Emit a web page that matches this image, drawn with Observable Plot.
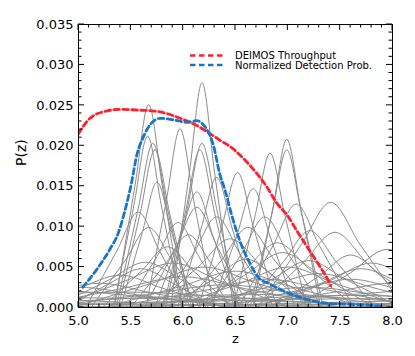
<!DOCTYPE html>
<html><head><meta charset="utf-8">
<script src="https://cdn.jsdelivr.net/npm/d3@7"></script>
<script src="https://cdn.jsdelivr.net/npm/@observablehq/plot@0.6"></script>
<style>html,body{margin:0;padding:0;background:#fff;} #chart{width:415px;height:356px;}</style>
</head><body><div id="chart"></div>
<script>
const xTicks = [5.0, 5.5, 6.0, 6.5, 7.0, 7.5, 8.0];
const yTicks = [0.000, 0.005, 0.010, 0.015, 0.020, 0.025, 0.030, 0.035];
const xMinor = d3.range(50, 81).map(v => v / 10);
const yMinor = d3.range(0, 36).map(v => v / 1000);

const legendLabels = ["DEIMOS Throughput", "Normalized Detection Prob."];

const deimosZ = [5.00, 5.11, 5.27, 5.40, 5.59, 5.72, 5.84, 5.97, 6.13, 6.22, 6.35, 6.48, 6.57, 6.67, 6.80, 6.89, 7.00, 7.095, 7.19, 7.29, 7.38, 7.41];
const deimosP = [0.0215, 0.0234, 0.0243, 0.0245, 0.0244, 0.0243, 0.0240, 0.0234, 0.0225, 0.0218, 0.0207, 0.0196, 0.0185, 0.0171, 0.0149, 0.0130, 0.0113, 0.0093, 0.0074, 0.0054, 0.0035, 0.0027];

const detZ = [5.04, 5.18, 5.30, 5.38, 5.44, 5.50, 5.56, 5.62, 5.69, 5.78, 5.91, 6.04, 6.13, 6.20, 6.29, 6.35, 6.40, 6.46, 6.54, 6.64, 6.72, 6.83, 7.02, 7.21, 7.40, 7.59, 7.88];
const detP = [0.0025, 0.0048, 0.0072, 0.0092, 0.0118, 0.0150, 0.0190, 0.0211, 0.0227, 0.0234, 0.0232, 0.0229, 0.0231, 0.0225, 0.0200, 0.0165, 0.0145, 0.0116, 0.0083, 0.0054, 0.0037, 0.0029, 0.0017, 0.0009, 0.0005, 0.0004, 0.0002];

// individual P(z) curves: [z, P] points
const grayCurves = [
  [[5.345,0],[5.54,0.0151],[5.67,0.0251],[5.80,0.0151],[5.995,0]],
  [[5.335,0],[5.53,0.0127],[5.66,0.0212],[5.79,0.0127],[5.985,0]],
  [[5.36,0],[5.57,0.0122],[5.71,0.0203],[5.85,0.0122],[6.06,0]],
  [[5.38,0],[5.59,0.0117],[5.73,0.0195],[5.87,0.0117],[6.08,0]],
  [[5.40,0],[5.61,0.0093],[5.75,0.0155],[5.89,0.0093],[6.10,0]],
  [[5.88,0],[6.06,0.0167],[6.18,0.0278],[6.30,0.0167],[6.48,0]],
  [[5.645,0],[5.84,0.0133],[5.97,0.0221],[6.10,0.0133],[6.295,0]],
  [[5.83,0],[6.04,0.0122],[6.18,0.0203],[6.32,0.0122],[6.53,0]],
  [[5.81,0],[6.02,0.0117],[6.16,0.0195],[6.30,0.0117],[6.51,0]],
  [[5.73,0],[5.97,0.0086],[6.13,0.0143],[6.29,0.0086],[6.53,0]],
  [[6.48,0],[6.69,0.0115],[6.83,0.0191],[6.97,0.0115],[7.18,0]],
  [[6.665,0],[6.86,0.0125],[6.99,0.0208],[7.12,0.0125],[7.315,0]],
  [[6.64,0],[6.85,0.0117],[6.99,0.0195],[7.13,0.0117],[7.34,0]],
  [[6.145,0],[6.37,0.0100],[6.52,0.0167],[6.67,0.0100],[6.895,0]],
  [[5.945,0],[6.17,0.0097],[6.32,0.0161],[6.47,0.0097],[6.695,0]],
  [[6.27,0],[6.51,0.0088],[6.67,0.0147],[6.83,0.0088],[7.07,0]],
  [[6.71,0],[7.13,0.0078],[7.41,0.0130],[7.69,0.0078],[8.11,0]],
  [[6.53,0],[6.86,0.0077],[7.08,0.0128],[7.30,0.0077],[7.63,0]],
  [[6.585,0],[6.96,0.0057],[7.21,0.0095],[7.46,0.0057],[7.835,0]],
  [[6.70,0],[7.15,0.0056],[7.45,0.0093],[7.75,0.0056],[8.20,0]],
  [[5.07,0],[5.37,0.0071],[5.57,0.0118],[5.77,0.0071],[6.07,0]],
  [[5.12,0],[5.45,0.0059],[5.67,0.0099],[5.89,0.0059],[6.22,0]],
  [[5.63,0],[5.93,0.0074],[6.13,0.0124],[6.33,0.0074],[6.63,0]],
  [[5.77,0],[6.10,0.0067],[6.32,0.0112],[6.54,0.0067],[6.87,0]],
  [[6.23,0],[6.56,0.0067],[6.78,0.0112],[7.00,0.0067],[7.33,0]],
  [[5.995,0],[6.37,0.0059],[6.62,0.0099],[6.87,0.0059],[7.245,0]],
  [[5.45,0],[5.75,0.0063],[5.95,0.0105],[6.15,0.0063],[6.45,0]],
  [[5.70,0],[6.15,0.0051],[6.45,0.0085],[6.75,0.0051],[7.20,0]],
  [[6.15,0],[6.60,0.0048],[6.90,0.0080],[7.20,0.0048],[7.65,0]],
  [[7.075,0],[7.60,0.0043],[7.95,0.0072],[8.30,0.0043],[8.825,0]],
  [[6.80,0],[7.40,0.0033],[7.80,0.0055],[8.20,0.0033],[8.80,0]],
  [[4.765,0],[5.29,0.0034],[5.64,0.0056],[5.99,0.0034],[6.515,0]],
  [[4.775,0],[5.45,0.0033],[5.90,0.0055],[6.35,0.0033],[7.025,0]],
  [[4.95,0],[5.70,0.0030],[6.20,0.0050],[6.70,0.0030],[7.45,0]],
  [[5.25,0],[6.00,0.0027],[6.50,0.0045],[7.00,0.0027],[7.75,0]],
  [[5.875,0],[6.55,0.0030],[7.00,0.0050],[7.45,0.0030],[8.125,0]],
  [[6.05,0],[6.80,0.0025],[7.30,0.0042],[7.80,0.0025],[8.55,0]],
  [[4.40,0],[5.00,0.0024],[5.40,0.0040],[5.80,0.0024],[6.40,0]],
  [[4.50,0],[5.40,0.0023],[6.00,0.0038],[6.60,0.0023],[7.50,0]],
  [[5.30,0],[6.20,0.0021],[6.80,0.0035],[7.40,0.0021],[8.30,0]],
  [[6.35,0],[7.10,0.0021],[7.60,0.0035],[8.10,0.0021],[8.85,0]],
  [[3.95,0],[4.70,0.0018],[5.20,0.0030],[5.70,0.0018],[6.45,0]],
  [[3.50,0],[4.40,0.0015],[5.00,0.0025],[5.60,0.0015],[6.50,0]],
  [[4.65,0],[5.70,0.0017],[6.40,0.0028],[7.10,0.0017],[8.15,0]],
  [[5.45,0],[6.50,0.0015],[7.20,0.0025],[7.90,0.0015],[8.95,0]],
  [[6.50,0],[7.40,0.0018],[8.00,0.0030],[8.60,0.0018],[9.50,0]],
  [[6.85,0],[7.30,0.0039],[7.60,0.0065],[7.90,0.0039],[8.35,0]],
  [[6.075,0],[6.60,0.0041],[6.95,0.0068],[7.30,0.0041],[7.825,0]],
  [[4.90,0],[5.30,0.0030],[5.60,0.0048],[5.90,0.0030],[6.30,0]],
  [[5.85,0],[6.30,0.0036],[6.60,0.0060],[6.90,0.0036],[7.35,0]],
  [[6.325,0],[6.85,0.0035],[7.20,0.0058],[7.55,0.0035],[8.075,0]],
  [[5.225,0],[5.60,0.0045],[5.85,0.0075],[6.10,0.0045],[6.475,0]],
  [[5.50,0],[5.83,0.0054],[6.05,0.0090],[6.27,0.0054],[6.60,0]],
  [[6.70,0],[7.30,0.0029],[7.70,0.0048],[8.10,0.0029],[8.70,0]],
  [[5.0,0.0018],[5.5,0.0019],[6.2,0.0015],[7.0,0.0008],[8.0,0.0002]],
  [[5.0,0.0008],[6.0,0.0014],[6.8,0.0016],[7.5,0.0012],[8.0,0.0008]],
  [[5.0,0.0003],[6.0,0.0008],[7.0,0.0013],[7.6,0.0015],[8.0,0.0014]],
  [[5.0,0.0012],[5.8,0.0011],[6.5,0.0009],[7.3,0.0006],[8.0,0.0004]],
  [[5.0,0.0005],[6.0,0.0007],[7.0,0.0010],[8.0,0.0011]],
  [[5.0,0.0020],[5.4,0.0016],[6.0,0.0008],[6.8,0.0003],[8.0,0.0001]],
  [[5.0,0.0001],[6.2,0.0004],[7.2,0.0012],[8.0,0.0020]],
  [[5.0,0.0004],[6.5,0.0003],[8.0,0.0005]],
  [[5.0,0.0009],[5.7,0.0005],[6.5,0.0002],[8.0,0.0001]],
  [[5.0,0.0],[6.0,0.0002],[7.0,0.0005],[8.0,0.0008]]
];

const grayRows = grayCurves.flatMap((c, i) => c.map(([z, p]) => ({id: i, z, p})));
const deimos = deimosZ.map((z, i) => ({z, p: deimosP[i]}));
const det = detZ.map((z, i) => ({z, p: detP[i]}));

const RED = "#ff1f2f", BLUE = "#1a74c6", GRAY = "#8c8c8c";
const FONT = "DejaVu Sans";

const chart = Plot.plot({
  width: 415, height: 356,
  marginLeft: 78, marginRight: 23, marginTop: 24, marginBottom: 49,
  style: {fontFamily: FONT, fontSize: "13px", background: "white", color: "black"},
  x: {domain: [5, 8]},
  y: {domain: [0, 0.035]},
  marks: [
    Plot.line(grayRows, {x: "z", y: "p", z: "id", curve: "monotone-x", stroke: GRAY, strokeWidth: 1, clip: true}),
    Plot.line(deimos, {x: "z", y: "p", curve: "monotone-x", stroke: RED, strokeWidth: 2.8, strokeDasharray: "5.5,3.5", clip: true}),
    Plot.line(det, {x: "z", y: "p", curve: "monotone-x", stroke: BLUE, strokeWidth: 2.8, strokeDasharray: "5.5,3.5", clip: true}),
    Plot.axisX({ticks: xTicks, tickSize: 0, tickPadding: 8, tickFormat: d3.format(".1f"), label: null, fontSize: 13}),
    Plot.axisY({ticks: yTicks, tickSize: 0, tickPadding: 5, tickFormat: d3.format(".3f"), label: null, fontSize: 13}),
    Plot.frame({stroke: "black", strokeWidth: 1}),
    Plot.text(["z"], {frameAnchor: "bottom", dy: 35, fontSize: 13}),
    Plot.text(["P(z)"], {frameAnchor: "left", dx: -57, rotate: -90, fontSize: 14})
  ]
});

// inward tick marks on all four sides, placed with the plot's own scales
const sx = chart.scale("x"), sy = chart.scale("y");
const svg = d3.select(chart);
const g = svg.append("g").attr("stroke", "black").attr("stroke-width", 1);
const x0 = sx.apply(5), x1 = sx.apply(8), y0 = sy.apply(0), y1 = sy.apply(0.035);
xMinor.forEach(v => {
  const major = xTicks.some(t => Math.abs(t - v) < 1e-9);
  const L = major ? 6 : 3.5, X = sx.apply(v);
  g.append("line").attr("x1", X).attr("x2", X).attr("y1", y0).attr("y2", y0 - L);
  g.append("line").attr("x1", X).attr("x2", X).attr("y1", y1).attr("y2", y1 + L);
});
yMinor.forEach(v => {
  const major = yTicks.some(t => Math.abs(t - v) < 1e-9);
  const L = major ? 6 : 3.5, Y = sy.apply(v);
  g.append("line").attr("y1", Y).attr("y2", Y).attr("x1", x0).attr("x2", x0 + L);
  g.append("line").attr("y1", Y).attr("y2", Y).attr("x1", x1).attr("x2", x1 - L);
});

// legend
const lg = svg.append("g").attr("font-family", FONT).attr("font-size", 10).attr("text-anchor", "start");
[[RED, 55.5], [BLUE, 65]].forEach(([c, yy], i) => {
  lg.append("line").attr("x1", 190).attr("x2", 225).attr("y1", yy).attr("y2", yy)
    .attr("stroke", c).attr("stroke-width", 2.5).attr("stroke-dasharray", "5.5,3.5");
  lg.append("text").attr("x", 235).attr("y", yy).attr("dy", "0.35em").attr("fill", "black")
    .attr("text-anchor", "start").text(legendLabels[i]);
});

document.getElementById("chart").appendChild(chart);
</script>
</body></html>
